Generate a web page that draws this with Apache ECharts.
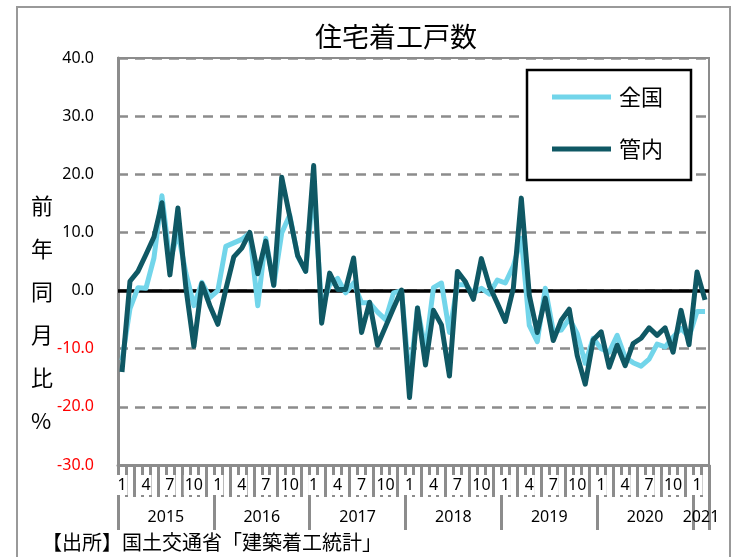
<!DOCTYPE html>
<html>
<head>
<meta charset="utf-8">
<script src="https://cdn.jsdelivr.net/npm/echarts@6/dist/echarts.min.js"></script>
<style>
html,body{margin:0;padding:0;background:#fff;}
#chart{width:735px;height:557px;}
</style>
</head>
<body>
<div id="chart"></div>
<script>
// ---- data ----
const years = ['2015', '2016', '2017', '2018', '2019', '2020', '2021'];
const monthsInYear = [12, 12, 12, 12, 12, 12, 2];
const monthTickLabels = ['1', '4', '7', '10'];
const seriesNames = ['全国', '管内'];
const national = [
  -12.0, -3.1, 0.5, 0.4, 5.6, 16.3, 5.0, 10.0, 3.0, -2.6, 1.4, -1.2,
  0.0, 7.6, 8.2, 8.8, 9.9, -2.6, 9.0, 0.9, 9.9, 13.0, 5.9, 3.3,
  18.0, -3.0, 1.0, 2.1, -0.4, 1.3, -2.1, -2.1, -3.7, -5.0, -0.4, 0.0,
  -15.5, -3.0, -10.3, 0.5, 1.3, -7.2, 1.0, 1.0, -0.5, 0.4, -0.6, 1.8,
  1.3, 4.2, 9.0, -6.0, -8.8, 0.4, -7.0, -6.8, -4.8, -7.4, -12.5, -8.2,
  -10.0, -10.6, -7.7, -11.5, -12.4, -13.0, -11.8, -9.2, -9.7, -8.0, -6.5, -8.0,
  -3.6, -3.6
];
const regional = [
  -14.0, 1.6, 3.3, 6.2, 9.2, 15.1, 2.7, 14.2, 0.5, -9.6, 1.2, -2.6,
  -5.8, 0.2, 5.8, 7.3, 10.0, 2.9, 8.5, 0.9, 19.5, 12.8, 6.0, 3.3,
  21.5, -5.6, 3.0, 0.2, 0.2, 5.6, -7.2, -2.0, -9.4, -6.2, -3.0, 0.1,
  -18.4, -3.0, -12.8, -3.4, -5.9, -14.7, 3.3, 1.5, -1.5, 5.5, 0.8, -2.2,
  -5.3, 0.4, 15.9, -0.8, -7.2, -1.3, -8.6, -5.1, -3.2, -11.2, -16.1, -8.5,
  -7.1, -13.2, -9.4, -12.9, -9.1, -8.2, -6.4, -7.7, -6.4, -10.6, -3.4, -9.3,
  3.2, -1.6
];
const titleText = '住宅着工戸数';
const yAxisName = ['前', '年', '同', '月', '比', '%'];
const sourceText = '【出所】国土交通省「建築着工統計」';

// ---- build categories ----
const categories = [];
years.forEach((y, yi) => {
  for (let m = 1; m <= monthsInYear[yi]; m++) categories.push(y + '/' + m);
});
const nCat = categories.length;

const FONT = "'Noto Sans', 'Noto Sans CJK JP', sans-serif";
const JFONT = "'Noto Sans CJK JP', 'Noto Sans', sans-serif";
const GREY = '#8c8c8c';

const chart = echarts.init(document.getElementById('chart'), null, {renderer: 'canvas'});
chart.setOption({
  animation: false,
  backgroundColor: '#fff',
  title: {
    text: titleText,
    left: 310, top: 18,
    textStyle: {fontFamily: JFONT, fontSize: 27, fontWeight: 'normal', color: '#000'}
  },
  legend: {
    data: seriesNames,
    orient: 'vertical',
    left: 527, top: 70,
    padding: [13, 28, 17, 25],
    itemGap: 24,
    itemWidth: 59, itemHeight: 5,
    icon: 'rect',
    borderColor: '#000', borderWidth: 2.5,
    backgroundColor: '#fff',
    textStyle: {fontFamily: JFONT, fontSize: 22, color: '#000', lineHeight: 28, padding: [0, 0, 0, 3]}
  },
  grid: {
    left: 118, right: 26, top: 58, bottom: 92,
    show: true, borderColor: GREY, borderWidth: 2, containLabel: false
  },
  xAxis: [
    {
      type: 'category', data: categories, boundaryGap: true, position: 'bottom',
      axisLine: {show: true, onZero: false, lineStyle: {color: GREY, width: 3}},
      axisTick: {show: true, interval: 0, length: 32, lineStyle: {color: GREY, width: 3}},
      axisLabel: {
        interval: (i, v) => monthTickLabels.includes(v.split('/')[1]),
        formatter: v => v.split('/')[1],
        margin: 10,
        fontFamily: FONT, fontSize: 16, color: '#000',
        backgroundColor: '#fff', padding: [2, 1, 2, 1]
      },
      splitLine: {show: false}
    },
    {
      type: 'value', min: 0, max: nCat, interval: 12, position: 'bottom',
      axisLine: {show: false, onZero: false},
      axisTick: {show: true, length: 65, lineStyle: {color: GREY, width: 3}},
      axisLabel: {show: false},
      splitLine: {show: false}
    },
    {
      type: 'category', data: categories, boundaryGap: true, position: 'bottom',
      axisLine: {show: false, onZero: false},
      axisTick: {show: false},
      axisLabel: {
        interval: (i, v) => {
          const p = v.split('/');
          const yi = years.indexOf(p[0]);
          const mid = monthsInYear[yi] === 12 ? 7 : monthsInYear[yi];
          return +p[1] === mid;
        },
        formatter: v => v.split('/')[0],
        margin: 44,
        padding: [0, 8, 0, 0],
        fontFamily: FONT, fontSize: 16, color: '#000'
      },
      splitLine: {show: false}
    }
  ],
  yAxis: {
    type: 'value', min: -30, max: 40, interval: 10,
    axisLine: {show: true, onZero: false, lineStyle: {color: GREY, width: 3}},
    axisTick: {show: false},
    axisLabel: {
      formatter: v => v.toFixed(1),
      color: v => (v < 0 ? '#ff0000' : '#000'),
      margin: 24,
      fontFamily: FONT, fontSize: 16
    },
    splitLine: {show: true, lineStyle: {color: GREY, width: 2.5, type: [10, 7]}}
  },
  series: [
    {
      name: seriesNames[0], type: 'line', data: national, xAxisIndex: 0,
      symbol: 'none', z: 10,
      lineStyle: {color: '#72d5ea', width: 5, join: 'round'},
      itemStyle: {color: '#72d5ea'},
      markLine: {
        silent: true, symbol: 'none', z: 3,
        label: {show: false},
        lineStyle: {color: '#000', width: 3.5, type: 'solid'},
        data: [{yAxis: 0}]
      }
    },
    {
      name: seriesNames[1], type: 'line', data: regional, xAxisIndex: 0,
      symbol: 'none', z: 11,
      lineStyle: {color: '#0f5864', width: 5, join: 'round'},
      itemStyle: {color: '#0f5864'}
    }
  ],
  graphic: [
    {type: 'rect', z: -10, silent: true, shape: {x: 17, y: 7, width: 713, height: 620},
     style: {fill: 'none', stroke: '#999', lineWidth: 2}},
    {type: 'text', left: 31, top: 184, silent: true,
     style: {text: yAxisName.join('\n'), fontFamily: JFONT, fontSize: 22, lineHeight: 43, fill: '#000'}},
    {type: 'text', left: 42, top: 532, silent: true,
     style: {text: sourceText, fontFamily: JFONT, fontSize: 20, fill: '#000'}}
  ]
});
</script>
</body>
</html>
